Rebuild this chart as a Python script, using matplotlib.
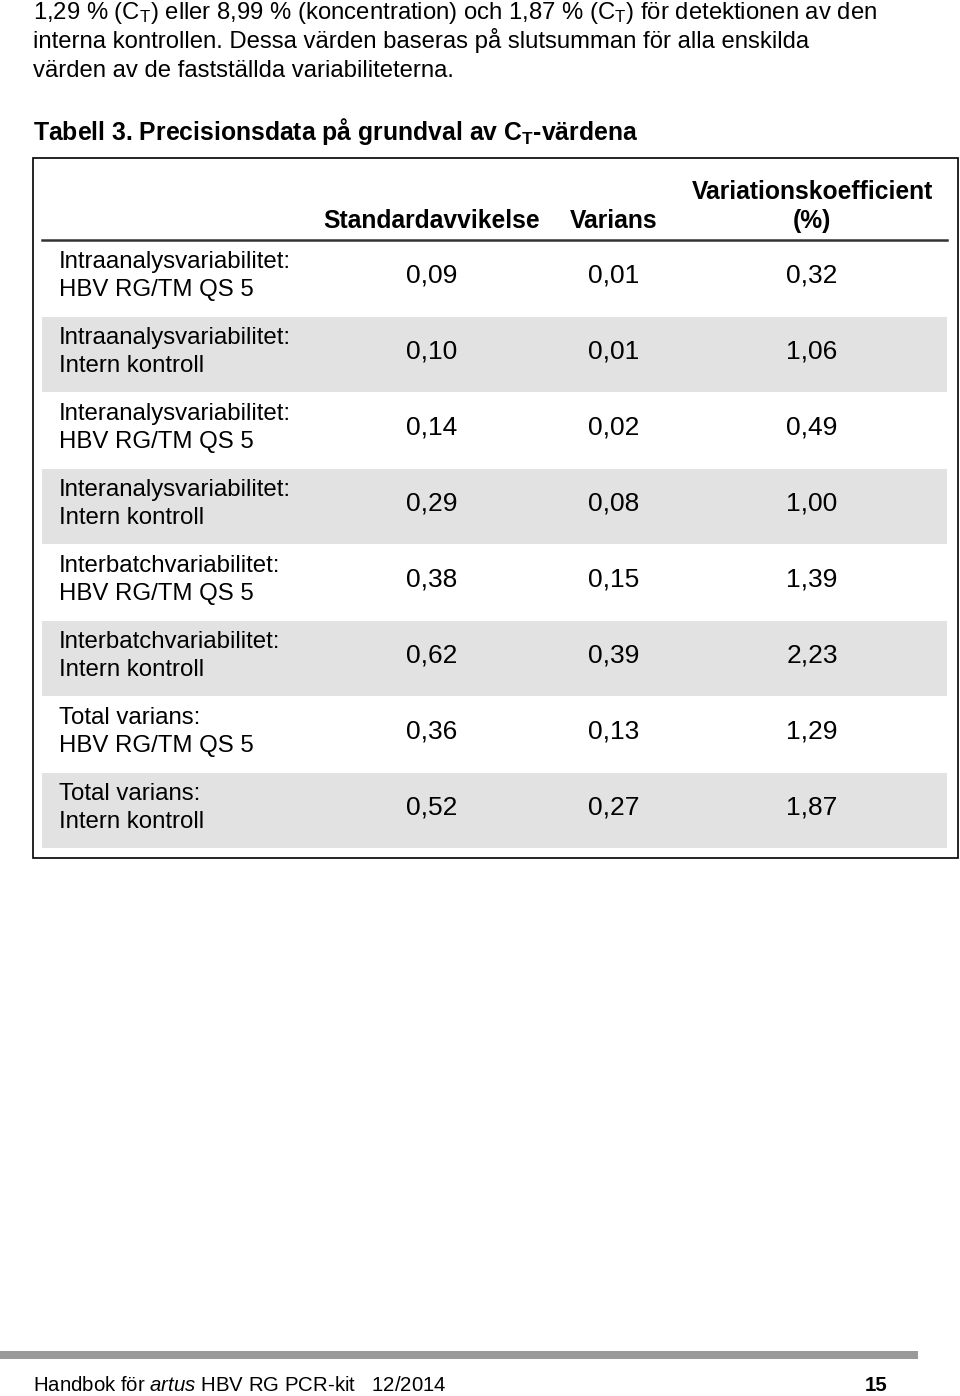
import matplotlib
matplotlib.use("Agg")
from matplotlib import pyplot as plt
from matplotlib.patches import Rectangle

plt.rcParams["font.family"] = ["Liberation Sans", "DejaVu Sans"]
plt.rcParams["mathtext.fontset"] = "custom"
plt.rcParams["mathtext.rm"] = "Liberation Sans"
plt.rcParams["mathtext.bf"] = "Liberation Sans:bold"
plt.rcParams["mathtext.it"] = "Liberation Sans:italic"

# text and table data
body_lines = [
    r"1,29 % (C$_\mathrm{T}$) eller 8,99 % (koncentration) och 1,87 % (C$_\mathrm{T}$) för detektionen av den",
    "interna kontrollen. Dessa värden baseras på slutsumman för alla enskilda",
    "värden av de fastställda variabiliteterna.",
]
title = r"Tabell 3. Precisionsdata på grundval av C$_\mathbf{T}$-värdena"
col_headers = ["Standardavvikelse", "Varians", "Variationskoefficient\n(%)"]
row_labels = [
    "Intraanalysvariabilitet:\nHBV RG/TM QS 5",
    "Intraanalysvariabilitet:\nIntern kontroll",
    "Interanalysvariabilitet:\nHBV RG/TM QS 5",
    "Interanalysvariabilitet:\nIntern kontroll",
    "Interbatchvariabilitet:\nHBV RG/TM QS 5",
    "Interbatchvariabilitet:\nIntern kontroll",
    "Total varians:\nHBV RG/TM QS 5",
    "Total varians:\nIntern kontroll",
]
std_dev = [0.09, 0.10, 0.14, 0.29, 0.38, 0.62, 0.36, 0.52]
variance = [0.01, 0.01, 0.02, 0.08, 0.15, 0.39, 0.13, 0.27]
coef_var = [0.32, 1.06, 0.49, 1.00, 1.39, 2.23, 1.29, 1.87]
footer_left = r"Handbok för $\mathit{artus}$ HBV RG PCR-kit   12/2014"
footer_page = "15"


def fmt(v):
    return f"{v:.2f}".replace(".", ",")


fig = plt.figure(figsize=(9.6, 13.96), dpi=100)
ax = fig.add_axes([0, 0, 1, 1])
ax.set_xlim(0, 960)
ax.set_ylim(1396, 0)
ax.axis("off")

# paragraph
for i, line in enumerate(body_lines):
    ax.text(33, 19 + 29 * i, line, fontsize=17.2, va="baseline", ha="left")

ax.text(33, 140, title, fontsize=17.8, fontweight="bold", va="baseline")

# table frame
ax.add_patch(Rectangle((33, 158), 925, 700, fill=False, ec="black", lw=1.2))
ax.plot([42, 947], [240, 240], color="#333333", lw=1.8)

col_x = [432, 614, 812]
ax.text(col_x[0], 228, col_headers[0], fontsize=17.7, fontweight="bold",
        ha="center", va="baseline")
ax.text(col_x[1], 228, col_headers[1], fontsize=17.7, fontweight="bold",
        ha="center", va="baseline")
ax.text(col_x[2], 228, col_headers[2], fontsize=17.7, fontweight="bold",
        ha="center", va="baseline", multialignment="center", linespacing=1.25)

row_h = 76
top = 241
for i, label in enumerate(row_labels):
    y0 = top + row_h * i
    if i % 2 == 1:
        ax.add_patch(Rectangle((42, y0), 905, row_h - 1, color="#e2e2e2", lw=0))
    yc = y0 + row_h / 2 - 3
    ax.text(59, yc, label, fontsize=17.3, ha="left", va="center", linespacing=1.38)
    for x, v in zip(col_x, [std_dev[i], variance[i], coef_var[i]]):
        ax.text(x, yc, fmt(v), fontsize=19, ha="center", va="center")

# footer
ax.add_patch(Rectangle((0, 1351), 918, 8, color="#9a9a9a", lw=0))
ax.text(33, 1391, footer_left, fontsize=14.7, va="baseline")
ax.text(887, 1391, footer_page, fontsize=14.7, fontweight="bold",
        ha="right", va="baseline")

fig.savefig("out.png", dpi=100)
